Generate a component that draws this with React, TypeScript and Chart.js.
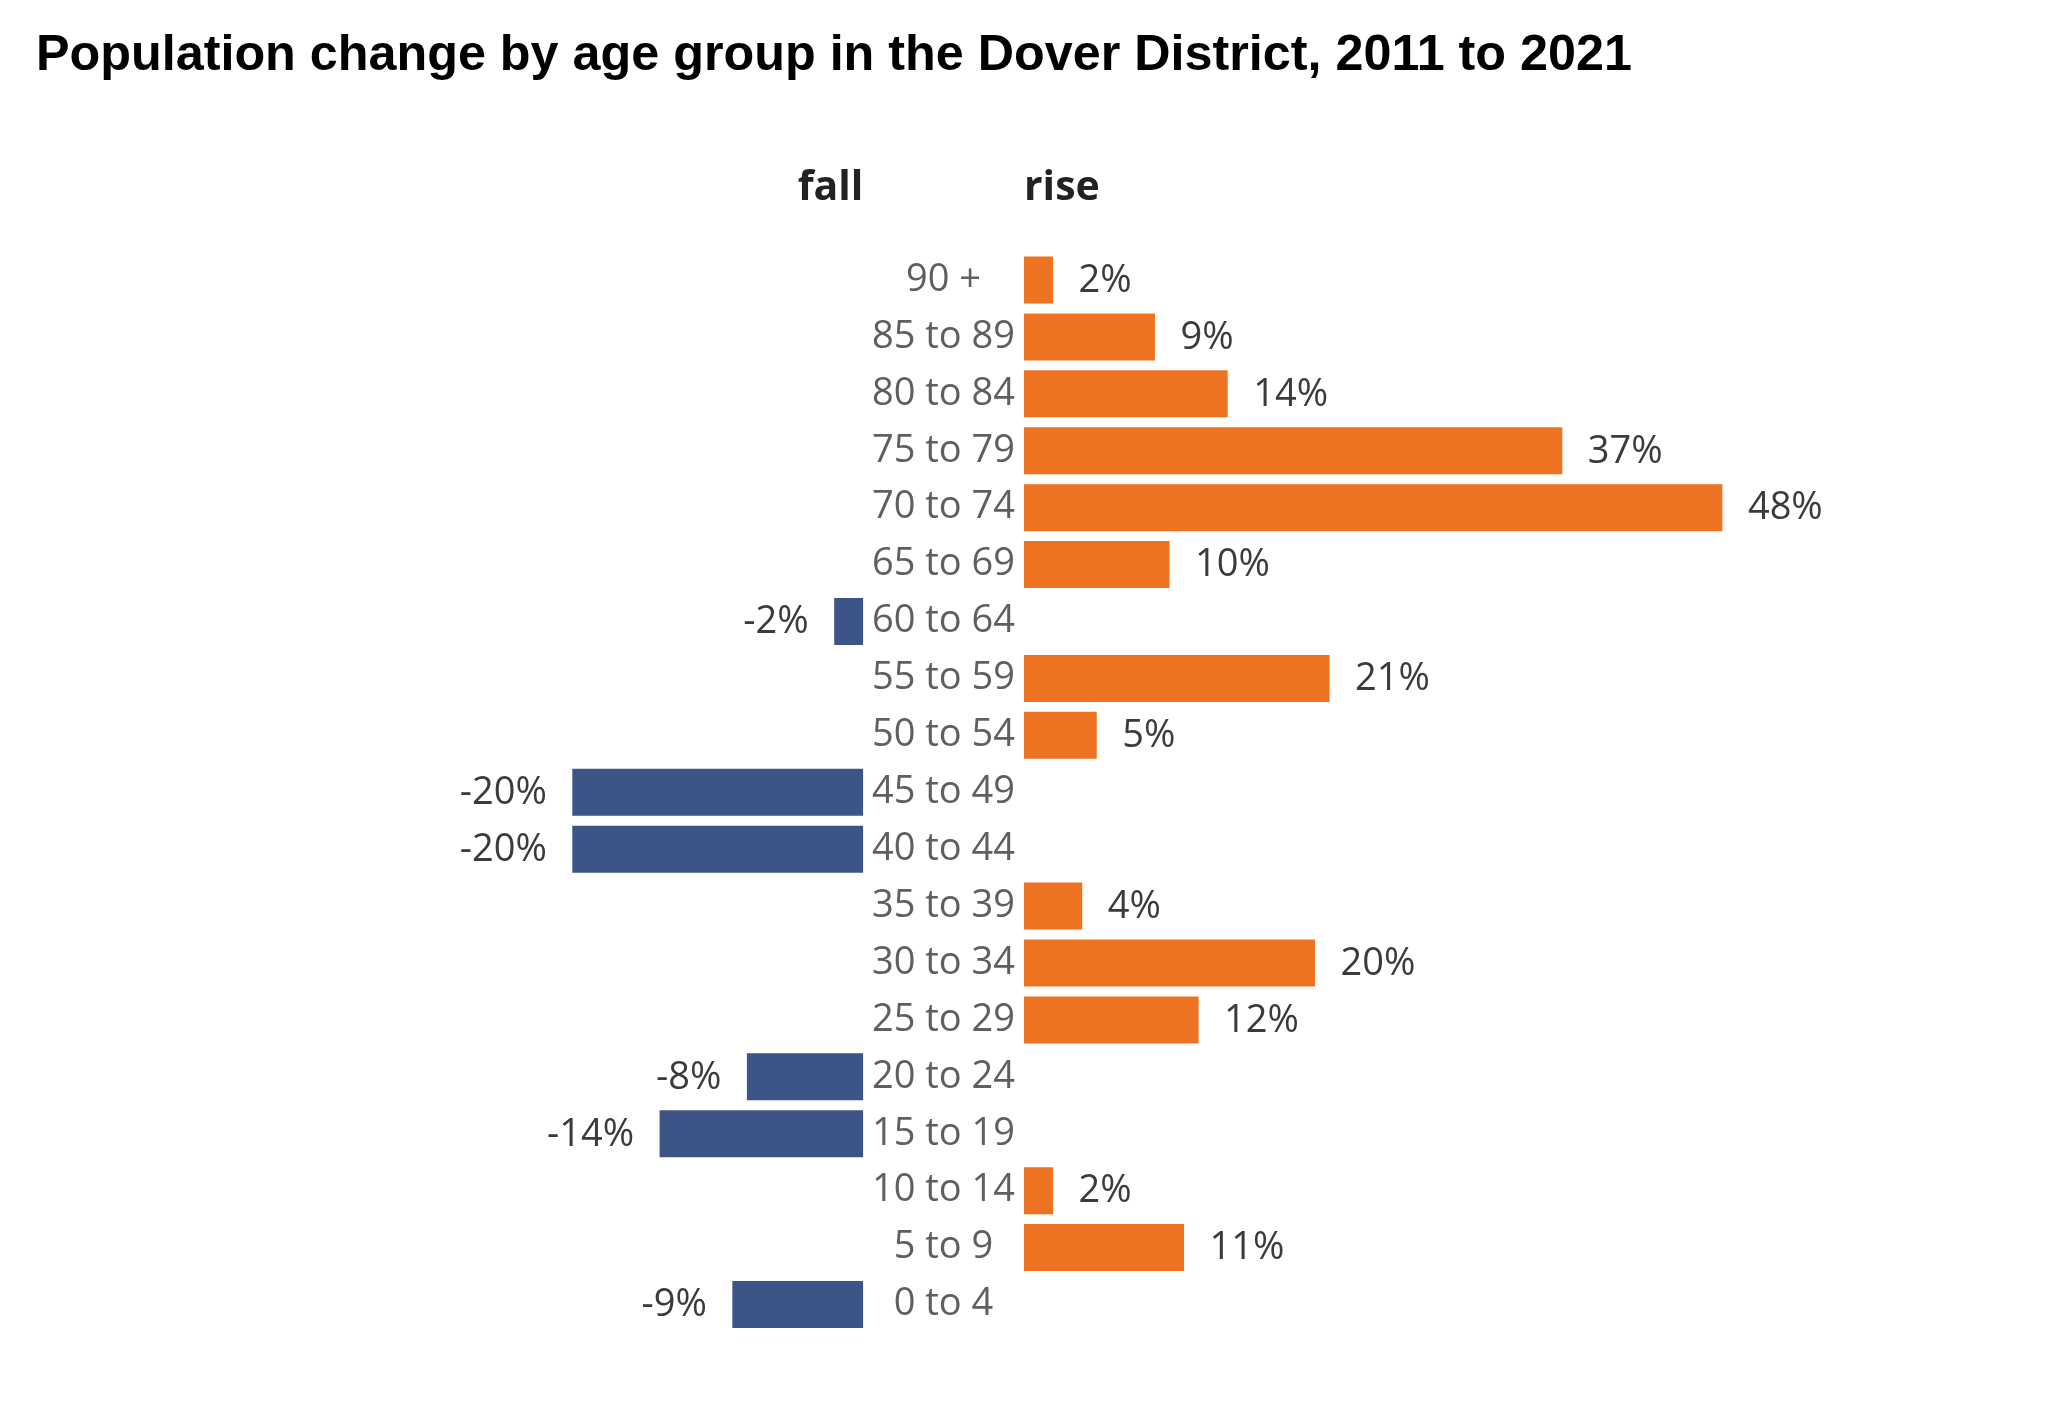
import React, { useEffect, useRef } from 'react';
import { Chart, registerables } from 'chart.js';

Chart.register(...registerables);

// ---- data ----
const chartTitle = 'Population change by age group in the Dover District, 2011 to 2021';
const fallHeading = 'fall';
const riseHeading = 'rise';
const ageGroups = [
  '90 +', '85 to 89', '80 to 84', '75 to 79', '70 to 74', '65 to 69', '60 to 64',
  '55 to 59', '50 to 54', '45 to 49', '40 to 44', '35 to 39', '30 to 34', '25 to 29',
  '20 to 24', '15 to 19', '10 to 14', '5 to 9', '0 to 4',
];
const changePct = [2, 9, 14, 37, 48, 10, -2, 21, 5, -20, -20, 4, 20, 12, -8, -14, 2, 11, -9];

// ---- styles ----
const FONT = "'Open Sans', 'DejaVu Sans', sans-serif";
const riseColor = '#ED7322';
const fallColor = '#3D5487';
const categoryColor = '#5f5f5f';
const valueColor = '#3b3b3b';
const headingColor = '#222222';

const valueLabels = {
  id: 'valueLabels',
  afterDatasetsDraw(chart: any, _args: any, opts: any) {
    const ctx = chart.ctx;
    const meta = chart.getDatasetMeta(0);
    const data = chart.data.datasets[0].data as (number | null)[];
    ctx.save();
    ctx.font = `${opts.size}px ${opts.family}`;
    ctx.fillStyle = opts.color;
    ctx.textBaseline = 'middle';
    meta.data.forEach((bar: any, i: number) => {
      const v = data[i];
      if (v == null) return;
      const neg = v < 0;
      ctx.textAlign = neg ? 'right' : 'left';
      ctx.fillText(`${v}%`, bar.x + (neg ? -opts.offset : opts.offset), bar.y + 1);
    });
    ctx.restore();
  },
};

const headingTitle = (text: string, align: 'start' | 'end') => ({
  display: true,
  text,
  align,
  color: headingColor,
  font: { family: FONT, size: 41, weight: 'bold' as const, lineHeight: 1.2 },
  padding: { top: 0, bottom: 38.85 },
});

const hiddenX = (min: number, max: number, title: any) => ({
  type: 'linear' as const,
  position: 'top' as const,
  min,
  max,
  ticks: { display: false },
  grid: { display: false, drawTicks: false },
  border: { display: false },
  title,
});

export default function App() {
  const leftRef = useRef<HTMLCanvasElement>(null);
  const rightRef = useRef<HTMLCanvasElement>(null);

  useEffect(() => {
    const falls = changePct.map((v) => (v < 0 ? v : null));
    const rises = changePct.map((v) => (v > 0 ? v : null));
    const labelOpts = { size: 38, family: FONT, color: valueColor, offset: 25.5 };

    const left = new Chart(leftRef.current!, {
      type: 'bar',
      data: {
        labels: ageGroups,
        datasets: [
          { data: falls, backgroundColor: fallColor, barPercentage: 0.826, categoryPercentage: 1 },
        ],
      },
      options: {
        indexAxis: 'y',
        animation: false,
        responsive: false,
        maintainAspectRatio: false,
        layout: { padding: { top: 163.5, bottom: 81.05, left: 281.3, right: 0.7 } },
        scales: {
          x: hiddenX(-40, 0, headingTitle(fallHeading, 'end')),
          y: { type: 'category', display: false },
        },
        plugins: {
          legend: { display: false },
          tooltip: { enabled: false },
          valueLabels: labelOpts,
        } as any,
      },
      plugins: [valueLabels],
    });

    const right = new Chart(rightRef.current!, {
      type: 'bar',
      data: {
        labels: ageGroups,
        datasets: [
          { data: rises, backgroundColor: riseColor, barPercentage: 0.826, categoryPercentage: 1 },
        ],
      },
      options: {
        indexAxis: 'y',
        animation: false,
        responsive: false,
        maintainAspectRatio: false,
        layout: { padding: { top: 163.5, bottom: 81.05, left: 0, right: 171 } },
        scales: {
          x: hiddenX(0, 60, headingTitle(riseHeading, 'start')),
          y: {
            type: 'category',
            position: 'left',
            afterFit: (scale: any) => {
              scale.width = 160;
            },
            grid: { display: false, drawTicks: false },
            border: { display: false },
            ticks: {
              autoSkip: false,
              crossAlign: 'center',
              padding: 9,
              color: categoryColor,
              font: { family: FONT, size: 38 },
            },
          },
        },
        plugins: {
          legend: { display: false },
          tooltip: { enabled: false },
          valueLabels: labelOpts,
        } as any,
      },
      plugins: [valueLabels],
    });

    return () => {
      left.destroy();
      right.destroy();
    };
  }, []);

  return (
    <div
      style={{
        position: 'absolute',
        left: 0,
        top: 0,
        width: 2068,
        height: 1414,
        overflow: 'hidden',
        background: '#ffffff',
      }}
    >
      <div
        style={{
          position: 'absolute',
          left: 36,
          top: 27.5,
          fontFamily: "'Liberation Sans', Arial, sans-serif",
          fontWeight: 'bold',
          fontSize: 50.3,
          lineHeight: '50px',
          color: '#000000',
          whiteSpace: 'nowrap',
        }}
      >
        {chartTitle}
      </div>
      <canvas
        ref={leftRef}
        width={864}
        height={1414}
        style={{ position: 'absolute', left: 0, top: 0, width: 864, height: 1414 }}
      />
      <canvas
        ref={rightRef}
        width={1204}
        height={1414}
        style={{ position: 'absolute', left: 864, top: 0, width: 1204, height: 1414 }}
      />
    </div>
  );
}
